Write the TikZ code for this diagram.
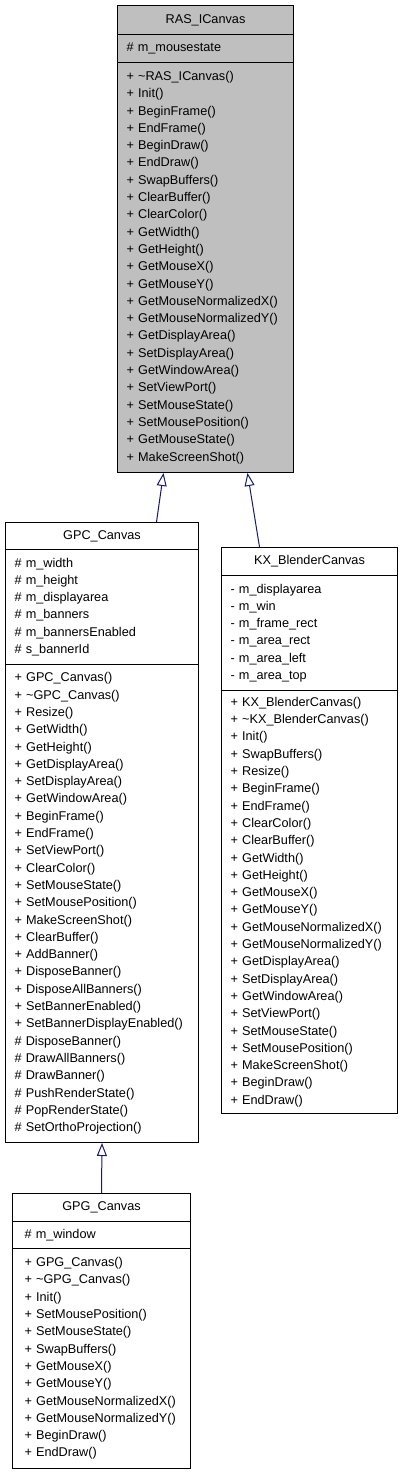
\documentclass[tikz,border=0pt]{standalone}
\usepackage{fontspec}
\setmainfont{Liberation Sans}
\usetikzlibrary{arrows.meta}
\definecolor{edgeblue}{RGB}{25,25,112}
\definecolor{basegray}{RGB}{191,191,191}
\hyphenpenalty=10000

\begin{document}
\begin{tikzpicture}[
        x=1pt, y=-1pt,
        members/.style={draw, line width=1pt, anchor=north west, inner xsep=9pt, inner ysep=0pt,
            align=left, font=\fontsize{12.7}{17.3}\selectfont},
        classname/.style={members, align=center},
        basecls/.style={fill=basegray},
        inherit/.style={draw=edgeblue, line width=1pt, -{Triangle[open, length=13pt, width=10pt, fill=white]}}
    ]

    \useasboundingbox (0,0) rectangle (403,1475);

    % --- RAS_ICanvas (base class) ---
    \node[classname, basecls, text width=158pt, minimum height=29pt] (rasT) at (117,5) {RAS\_ICanvas};
    \node[members, basecls, text width=158pt, minimum height=28pt] (rasA) at (117,34) {\# m\_mousestate};
    \node[members, basecls, text width=158pt, minimum height=410pt] (rasM) at (117,62) {%
        + \textasciitilde RAS\_ICanvas()\\ + Init()\\ + BeginFrame()\\ + EndFrame()\\
        + BeginDraw()\\ + EndDraw()\\ + SwapBuffers()\\ + ClearBuffer()\\ + ClearColor()\\
        + GetWidth()\\ + GetHeight()\\ + GetMouseX()\\ + GetMouseY()\\
        + GetMouseNormalizedX()\\ + GetMouseNormalizedY()\\ + GetDisplayArea()\\
        + SetDisplayArea()\\ + GetWindowArea()\\ + SetViewPort()\\ + SetMouseState()\\
        + SetMousePosition()\\ + GetMouseState()\\ + MakeScreenShot()};

    % --- GPC_Canvas ---
    \node[classname, text width=175pt, minimum height=27pt] (gpcT) at (5,522) {GPC\_Canvas};
    \node[members, text width=175pt, minimum height=115pt] (gpcA) at (5,549) {%
        \# m\_width\\ \# m\_height\\ \# m\_displayarea\\ \# m\_banners\\
        \# m\_bannersEnabled\\ \# s\_bannerId};
    \node[members, text width=175pt, minimum height=478pt] (gpcM) at (5,664) {%
        + GPC\_Canvas()\\ + \textasciitilde GPC\_Canvas()\\ + Resize()\\ + GetWidth()\\
        + GetHeight()\\ + GetDisplayArea()\\ + SetDisplayArea()\\ + GetWindowArea()\\
        + BeginFrame()\\ + EndFrame()\\ + SetViewPort()\\ + ClearColor()\\
        + SetMouseState()\\ + SetMousePosition()\\ + MakeScreenShot()\\ + ClearBuffer()\\
        + AddBanner()\\ + DisposeBanner()\\ + DisposeAllBanners()\\ + SetBannerEnabled()\\
        + SetBannerDisplayEnabled()\\ \# DisposeBanner()\\ \# DrawAllBanners()\\
        \# DrawBanner()\\ \# PushRenderState()\\ \# PopRenderState()\\ \# SetOrthoProjection()};

    % --- KX_BlenderCanvas ---
    \node[classname, text width=158pt, minimum height=28pt] (kxT) at (221,547) {KX\_BlenderCanvas};
    \node[members, text width=158pt, minimum height=115pt] (kxA) at (221,575) {%
        - m\_displayarea\\ - m\_win\\ - m\_frame\_rect\\ - m\_area\_rect\\
        - m\_area\_left\\ - m\_area\_top};
    \node[members, text width=158pt, minimum height=423pt] (kxM) at (221,690) {%
        + KX\_BlenderCanvas()\\ + \textasciitilde KX\_BlenderCanvas()\\ + Init()\\
        + SwapBuffers()\\ + Resize()\\ + BeginFrame()\\ + EndFrame()\\ + ClearColor()\\
        + ClearBuffer()\\ + GetWidth()\\ + GetHeight()\\ + GetMouseX()\\ + GetMouseY()\\
        + GetMouseNormalizedX()\\ + GetMouseNormalizedY()\\ + GetDisplayArea()\\
        + SetDisplayArea()\\ + GetWindowArea()\\ + SetViewPort()\\ + SetMouseState()\\
        + SetMousePosition()\\ + MakeScreenShot()\\ + BeginDraw()\\ + EndDraw()};

    % --- GPG_Canvas ---
    \node[classname, text width=160pt, minimum height=28pt] (gpgT) at (12,1193) {GPG\_Canvas};
    \node[members, inner xsep=12pt, text width=154pt, minimum height=27pt] (gpgA) at (12,1221) {\# m\_window};
    \node[members, inner xsep=12pt, text width=154pt, minimum height=220pt] (gpgM) at (12,1248) {%
        + GPG\_Canvas()\\ + \textasciitilde GPG\_Canvas()\\ + Init()\\ + SetMousePosition()\\
        + SetMouseState()\\ + SwapBuffers()\\ + GetMouseX()\\ + GetMouseY()\\
        + GetMouseNormalizedX()\\ + GetMouseNormalizedY()\\ + BeginDraw()\\ + EndDraw()};

    % --- Inheritance ---
    \draw[inherit] ([xshift=54.5pt]gpcT.north) -- ([xshift=-42pt]rasM.south);
    \draw[inherit] ([xshift=-50pt]kxT.north) -- ([xshift=42pt]rasM.south);
    \draw[inherit] (gpgT.north) -- (gpcM.south);

\end{tikzpicture}
\end{document}
